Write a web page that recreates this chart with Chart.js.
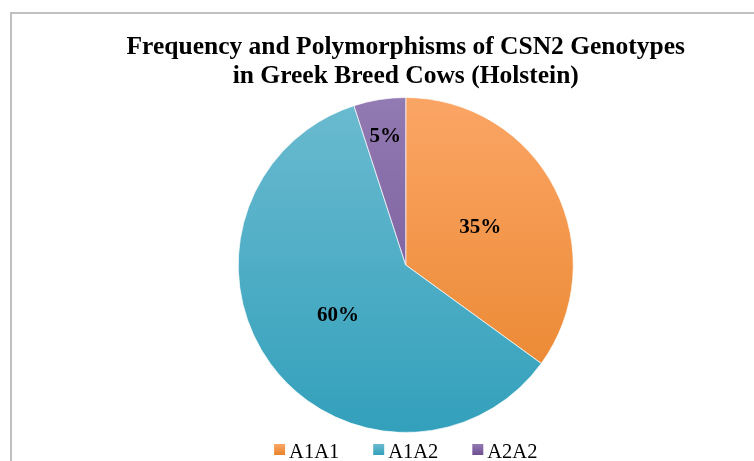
<!DOCTYPE html>
<html>
<head>
<meta charset="utf-8">
<script src="https://cdn.jsdelivr.net/npm/chart.js@4/dist/chart.umd.min.js"></script>
<style>
    html, body { margin: 0; padding: 0; background: #fff; overflow: hidden; }
    #wrap { position: relative; width: 754px; height: 461px; }
    #frame {
        position: absolute; left: 10px; top: 12px;
        width: 800px; height: 500px;
        border: 2px solid #c0c0c0;
    }
    #chart { position: absolute; left: 0; top: 0; }
</style>
</head>
<body>
<div id="wrap">
    <div id="frame"></div>
    <canvas id="chart" width="754" height="461"></canvas>
</div>
<script>
// дані
const genotypes = ['A1A1', 'A1A2', 'A2A2'];
const shares = [35, 60, 5];
const titleLines = [
    'Frequency and Polymorphisms of CSN2 Genotypes',
    'in Greek Breed Cows (Holstein)'
];

// кольори: верх / низ градієнта
const sliceColors = [
    ['#fba565', '#e8842a'],
    ['#6bbbd0', '#33a0bb'],
    ['#927ab2', '#6e4f92']
];

const serif = "'Liberation Serif', 'Times New Roman', serif";

function sliceFill(context) {
    const chart = context.chart;
    const area = chart.chartArea;
    const c = sliceColors[context.dataIndex];
    if (!area) return c[0];
    const g = chart.ctx.createLinearGradient(0, area.top, 0, area.bottom);
    g.addColorStop(0, c[0]);
    g.addColorStop(1, c[1]);
    return g;
}

// підписи відсотків
const percentLabels = {
    id: 'percentLabels',
    afterDatasetsDraw(chart) {
        const ctx = chart.ctx;
        const meta = chart.getDatasetMeta(0);
        ctx.save();
        ctx.font = 'bold 21px ' + serif;
        ctx.fillStyle = '#000';
        ctx.textAlign = 'center';
        ctx.textBaseline = 'middle';
        meta.data.forEach((arc, i) => {
            const p = arc.getProps(['x', 'y', 'startAngle', 'endAngle', 'outerRadius']);
            const mid = (p.startAngle + p.endAngle) / 2;
            const k = (p.endAngle - p.startAngle) < 0.5 ? 0.78 : 0.5;
            const x = p.x + Math.cos(mid) * p.outerRadius * k;
            const y = p.y + Math.sin(mid) * p.outerRadius * k + 1;
            ctx.fillText(shares[i] + '%', x, y);
        });
        ctx.restore();
    }
};

// легенда знизу
const bottomLegend = {
    id: 'bottomLegend',
    afterDraw(chart) {
        const ctx = chart.ctx;
        const area = chart.chartArea;
        const box = 11, gap = 4, spacing = 34;
        ctx.save();
        ctx.font = '20.5px ' + serif;
        const widths = genotypes.map(t => ctx.measureText(t).width);
        const total = widths.reduce((a, w) => a + box + gap + w, 0) + spacing * (genotypes.length - 1);
        let x = (area.left + area.right) / 2 - total / 2;
        const baseY = 458;
        genotypes.forEach((t, i) => {
            const g = ctx.createLinearGradient(0, 444, 0, 455);
            g.addColorStop(0, sliceColors[i][0]);
            g.addColorStop(1, sliceColors[i][1]);
            ctx.fillStyle = g;
            ctx.fillRect(x, 444, box, box);
            x += box + gap;
            ctx.fillStyle = '#000';
            ctx.textBaseline = 'alphabetic';
            ctx.fillText(t, x, baseY);
            x += widths[i] + spacing;
        });
        ctx.restore();
    }
};

const ctx = document.getElementById('chart').getContext('2d');
new Chart(ctx, {
    type: 'pie',
    data: {
        labels: genotypes,
        datasets: [{
            data: shares,
            backgroundColor: sliceFill,
            borderColor: 'rgba(255,255,255,0.7)',
            borderWidth: 1
        }]
    },
    options: {
        responsive: false,
        animation: false,
        layout: { padding: { left: 57.5, right: 0, top: 0, bottom: 28 } },
        plugins: {
            legend: { display: false },
            tooltip: { enabled: false },
            title: {
                display: true,
                text: titleLines,
                color: '#000',
                font: { family: serif, size: 25.5, weight: 'bold', lineHeight: 1.137 },
                padding: { top: 33, bottom: 6 }
            }
        }
    },
    plugins: [percentLabels, bottomLegend]
});
</script>
</body>
</html>
